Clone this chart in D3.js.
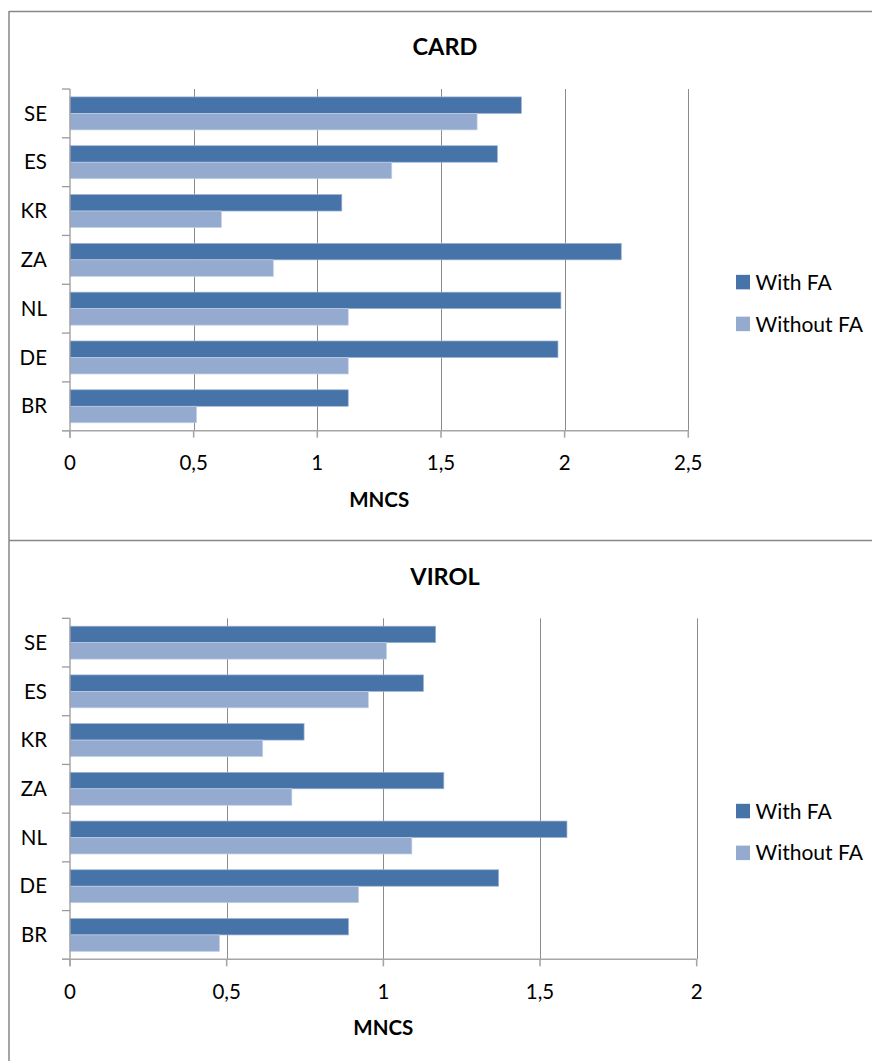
<!DOCTYPE html>
<html>
<head>
<meta charset="utf-8">
<script src="https://cdn.jsdelivr.net/npm/d3@7"></script>
<style>
  body { margin: 0; background: #fff; }
  svg { display: block; font-family: Lato, "Open Sans", sans-serif; }
</style>
</head>
<body>
<script>
// Chart data
const categories = ["SE", "ES", "KR", "ZA", "NL", "DE", "BR"];
const seriesNames = ["With FA", "Without FA"];
const cardWith = [1.825, 1.728, 1.099, 2.229, 1.985, 1.973, 1.125];
const cardWithout = [1.646, 1.301, 0.612, 0.822, 1.125, 1.125, 0.512];
const virolWith = [1.167, 1.128, 0.747, 1.193, 1.586, 1.368, 0.889];
const virolWithout = [1.010, 0.952, 0.615, 0.708, 1.091, 0.921, 0.477];
const cardTicks = [0, 0.5, 1, 1.5, 2, 2.5];
const virolTicks = [0, 0.5, 1, 1.5, 2];

const colors = ["#4674a8", "#94aacf"];
const w = 872;
const h = 1061;

const fmt = d3.formatLocale({ decimal: ",", thousands: ".", grouping: [3], currency: ["", ""] }).format("~g");

const svg = d3.select("body").append("svg").attr("width", w).attr("height", h);

// Outer frame of the two chart boxes
const frame = svg.append("g").attr("stroke", "#878787").attr("stroke-width", 1.5);
frame.append("line").attr("x1", 9).attr("x2", w).attr("y1", 11.5).attr("y2", 11.5);
frame.append("line").attr("x1", 9).attr("x2", w).attr("y1", 540.5).attr("y2", 540.5);
frame.append("line").attr("x1", 9).attr("x2", 9).attr("y1", 11).attr("y2", h);

function drawChart(opts) {
	const g = svg.append("g").attr("transform", `translate(0, ${opts.top})`);
	const plot = opts.plot; // [x0, x1, y0, y1] relative to chart top

	// Title
	g.append("text")
		.attr("x", 445)
		.attr("y", opts.titleY)
		.attr("text-anchor", "middle")
		.attr("font-size", 23.5)
		.attr("font-weight", "bold")
		.attr("fill", "#000")
		.text(opts.title);

	const xScale = d3.scaleLinear().domain([0, opts.ticks[opts.ticks.length - 1]]).range([plot[0], plot[1]]);
	const yScale = d3.scaleBand().domain(categories).range([plot[2], plot[3]]).padding(0);
	const bw = yScale.bandwidth();
	const barH = bw * 0.338;
	const gap = (bw - 2 * barH) / 2;

	// Vertical gridlines
	g.append("g")
		.selectAll("line")
		.data(opts.ticks.slice(1))
		.enter()
		.append("line")
		.attr("x1", (d) => Math.round(xScale(d)) + 0.5)
		.attr("x2", (d) => Math.round(xScale(d)) + 0.5)
		.attr("y1", plot[2])
		.attr("y2", plot[3])
		.attr("stroke", "#8c8c8c")
		.attr("stroke-width", 1);

	// Bars
	const series = [opts.withFA, opts.withoutFA];
	series.forEach((vals, si) => {
		g.append("g")
			.selectAll("rect")
			.data(categories)
			.enter()
			.append("rect")
			.attr("x", xScale(0))
			.attr("y", (d) => yScale(d) + gap + si * barH)
			.attr("width", (d, i) => xScale(vals[i]) - xScale(0))
			.attr("height", barH)
			.attr("fill", colors[si])
			.attr("stroke", si === 0 ? "#9fb3d3" : "#c3d0e6")
			.attr("stroke-width", 0.7);
	});

	// Y axis (categories)
	const yAxis = g.append("g").attr("stroke", "#9a9a9a").attr("stroke-width", 1.3);
	yAxis.append("line").attr("x1", plot[0]).attr("x2", plot[0]).attr("y1", plot[2]).attr("y2", plot[3] + 7);
	yAxis.selectAll("line.tk")
		.data(d3.range(categories.length + 1))
		.enter()
		.append("line")
		.attr("class", "tk")
		.attr("x1", plot[0] - 8)
		.attr("x2", plot[0])
		.attr("y1", (i) => plot[2] + i * bw)
		.attr("y2", (i) => plot[2] + i * bw);

	g.append("g")
		.selectAll("text")
		.data(categories)
		.enter()
		.append("text")
		.attr("x", 47)
		.attr("y", (d) => yScale(d) + bw / 2)
		.attr("dy", "0.35em")
		.attr("text-anchor", "end")
		.attr("font-size", 20.5)
		.attr("fill", "#000")
		.text((d) => d);

	// X axis
	const xAxis = g.append("g").attr("stroke", "#a6a6a6").attr("stroke-width", 1.6);
	xAxis.append("line").attr("x1", plot[0] - 8).attr("x2", plot[1]).attr("y1", plot[3]).attr("y2", plot[3]);
	xAxis.selectAll("line.tk")
		.data(opts.ticks)
		.enter()
		.append("line")
		.attr("class", "tk")
		.attr("x1", (d) => xScale(d))
		.attr("x2", (d) => xScale(d))
		.attr("y1", plot[3])
		.attr("y2", plot[3] + 7);

	g.append("g")
		.selectAll("text")
		.data(opts.ticks)
		.enter()
		.append("text")
		.attr("x", (d) => xScale(d))
		.attr("y", plot[3] + 39.5)
		.attr("text-anchor", "middle")
		.attr("font-size", 20.5)
		.attr("fill", "#000")
		.text((d) => fmt(d));

	// Axis title
	g.append("text")
		.attr("x", (plot[0] + plot[1]) / 2)
		.attr("y", plot[3] + 76)
		.attr("text-anchor", "middle")
		.attr("font-size", 20.5)
		.attr("font-weight", "bold")
		.attr("fill", "#000")
		.text("MNCS");

	// Legend
	const legendTop = (plot[2] + plot[3]) / 2 + 15;
	const legend = g.append("g")
		.selectAll("g")
		.data(seriesNames)
		.enter()
		.append("g")
		.attr("transform", (d, i) => `translate(736, ${legendTop + i * 41.8})`);
	legend.append("rect")
		.attr("width", 14)
		.attr("height", 14.5)
		.attr("fill", (d, i) => colors[i]);
	legend.append("text")
		.attr("x", 19.5)
		.attr("y", 7.3)
		.attr("dy", "0.36em")
		.attr("font-size", 21)
		.attr("fill", "#000")
		.text((d) => d);
}

drawChart({
	top: 0,
	title: "CARD",
	titleY: 55,
	plot: [70, 688.3, 89, 430.7],
	ticks: cardTicks,
	withFA: cardWith,
	withoutFA: cardWithout
});

drawChart({
	top: 540,
	title: "VIROL",
	titleY: 45,
	plot: [70, 696.7, 78.3, 419.3],
	ticks: virolTicks,
	withFA: virolWith,
	withoutFA: virolWithout
});
</script>
</body>
</html>
